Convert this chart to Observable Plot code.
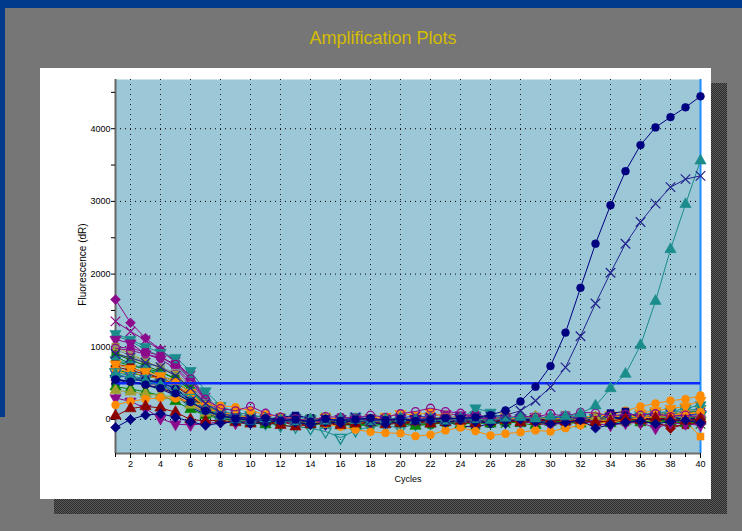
<!DOCTYPE html>
<html><head><meta charset="utf-8">
<script src="https://cdn.jsdelivr.net/npm/d3@7"></script>
<script src="https://cdn.jsdelivr.net/npm/@observablehq/plot@0.6"></script>
<style>
html,body{margin:0;padding:0;}
body{width:742px;height:531px;position:relative;overflow:hidden;background:#767676;font-family:"Liberation Sans",Arial,sans-serif;}
.abs{position:absolute;}
#topbar{left:0;top:0;width:742px;height:8px;background:#003a8c;}
#leftbar{left:0;top:0;width:5px;height:417px;background:#003a8c;}
.shadow{background:repeating-conic-gradient(#2c2c2c 0 25%,#5a5a5a 0 50%) 0 0/2px 2px;}
#shadowB{left:54px;top:499px;width:673px;height:15px;}
#shadowR{left:711px;top:83px;width:16px;height:431px;}
#panel{left:40px;top:68px;width:671px;height:431px;background:#fff;}
#title{left:283px;top:27px;width:200px;text-align:center;font-size:18px;line-height:22px;color:#d4bd00;white-space:nowrap;}
#chart{left:0;top:0;}
</style></head>
<body>
<div id="topbar" class="abs"></div>
<div id="leftbar" class="abs"></div>
<div id="shadowB" class="abs shadow"></div>
<div id="shadowR" class="abs shadow"></div>
<div id="panel" class="abs"></div>
<div id="title" class="abs">Amplification Plots</div>
<div id="chart" class="abs"></div>
<script>
// ---- categories / ticks ----
const cycles = [1,2,3,4,5,6,7,8,9,10,11,12,13,14,15,16,17,18,19,20,21,22,23,24,25,26,27,28,29,30,31,32,33,34,35,36,37,38,39,40];
const xTickLabels = [2,4,6,8,10,12,14,16,18,20,22,24,26,28,30,32,34,36,38,40];
const xGridCycles = [2,4,6,8,10,12,14,16,18,20,22,24,26,28,30,32,34,36,38];
const yTickLabels = [0,1000,2000,3000,4000];
const yMinorTicks = [500,1500,2500,3500,4500];
const yDomain = [-468, 4677];
const threshold = [500];

// ---- background wells (dR per cycle) ----
const p1 = [1650,1330,1120,960,800,560,260,120,60,20, -10,30,0,-40,-20,-60,-30,10,-20,-50, -30,0,-40,-20,10,-30,-10,20,0,-30, 10,40,0,-20,30,60,20,10,50,30];
const p2 = [1350,1210,1090,950,790,600,300,140,40,10, -20,0,-30,-50,-10,-40,-70,-30,-10,-60, -40,-20,10,-30,-50,-20,0,-40,-10,20, -20,0,30,-10,10,40,0,-30,20,-10];
const t1 = [1180,1100,1000,920,850,670,390,190,100,60, 30,10,-20,0,-40,-30,-10,20,-10,-30, 0,30,-20,-10,60,-40,0,-20,10,-10, 20,0,-30,50,20,60,90,100,120,150];
const p3 = [1100,1050,900,830,700,480,220,90,30,40, 0,-20,10,-30,-60,-20,10,-40,-10,-30, 20,40,80,60,30,-10,-20,20,40,0, 30,-20,10,30,-10,20,50,30,60,80];
const p6 = [1000,980,930,880,720,520,250,100,40,10, -20,10,-30,20,-10,30,0,-40,10,-20, 40,20,-10,30,70,20,-20,10,40,20, 60,30,0,20,50,80,60,90,70,50];
const t4 = [1150,1080,960,870,740,560,300,130,60,20, 0,-30,10,-20,-50,-10,20,-30,0,-10, 30,-20,10,-40,0,20,-10,30,0,-20, 20,50,10,40,70,40,90,60,80,110];
const o1 = [1000,900,810,700,620,430,200,80,20,-10, -30,10,-20,-60,-40,-80,-50,-20,-40,-70, -10,-30,0,-60,-20,-50,-30,-10,-40,-20, 0,-30,10,-20,20,0,40,20,10,-20];
const g1 = [960,880,790,720,640,470,230,110,50,20, -10,-20,-50,-30,-70,-40,-20,10,-30,-20, 20,50,70,20,-10,10,-20,0,30,-10, 0,20,-20,10,40,20,70,90,110,130];
const gr1 = [870,760,690,600,520,380,150,40,-10,-30, -40,-60,-20,-80,-50,-30,-60,-100,-40,-20, -50,-80,-30,-60,-40,-10,-50,-30,0,-20, -40,-10,-30,20,-10,30,0,-20,10,40];
const gr2 = [800,740,700,650,560,420,190,60,0,-20, -50,-30,-70,-40,-20,-60,-90,-50,-20,-40, -70,-30,-60,-10,-40,-60,-20,-50,-30,-60, -20,-40,-10,-30,10,-20,20,-10,30,0];
const gr5 = [680,640,600,560,470,330,150,50,0,-30, -10,-50,-20,0,-40,-70,-30,-10,-50,-20, -60,-30,-10,-40,-70,-20,-50,-10,-40,-20, -60,-30,-10,-40,0,-20,-50,-10,-30,-60];
const r1 = [760,720,640,570,480,330,160,50,-10,-40, -60,-30,-80,-60,-40,-70,-30,-50,-20,-60, -40,-10,-30,-50,-20,0,-30,-40,-10,-30, -50,-20,10,-10,-40,-20,-60,-90,-80,-40];
const or1 = [700,650,600,560,470,340,180,70,30,0, -20,-10,-40,-20,-50,-30,0,-20,-40,-10, -30,20,-20,10,-10,-30,0,-20,10,-10, 30,0,-20,20,50,30,60,80,70,100];
const or3 = [760,700,660,600,520,370,170,60,10,-20, 10,-30,0,-20,30,0,-40,20,40,80, 60,100,30,0,-30,10,40,-10,20,-20, 10,-30,40,60,30,90,120,150,180,260];
const n1 = [480,560,540,520,420,260,120,40,10,0, -30,-10,-40,-20,-50,-30,-10,-40,-20,10, -30,-10,-40,-20,-50,-10,-30,0,20,-20, 10,-10,30,0,20,-10,10,-20,0,20];
const n2 = [520,550,530,500,330,170,70,40,30,20, -10,30,55,18,-10,-30,0,-20,-40,-10, -30,10,-20,-95,-100,-60,-40,-20,-30,-10, -40,0,-20,87,110,20,-10,30,0,-20];
const n4 = [560,520,470,420,330,200,90,20,-20,-10, -40,-20,0,-30,-60,-40,-10,-30,0,-20, 10,-30,-10,20,-20,0,-40,-10,10,-30, 0,20,-10,40,10,-20,30,0,20,-10];
const oc1 = [200,250,280,300,290,240,200,190,170,120, 70,40,10,-20,-60,-100,-140,-170,-185,-190, -230,-210,-150,-110,-160,-220,-195,-175,-150,-165, -120,-80,-60,-30,-10,20,40,60,80,100];
const oc2 = [680,600,520,450,360,240,150,100,60,30, 0,-20,-40,-10,20,-10,-30,0,20,-10, 30,10,-20,10,-10,20,0,-30,-10,20, 0,30,50,60,120,180,220,260,280,330];
const r2 = [50,150,180,160,100,0,-20,-10,-40,-60, -30,-80,-100,-70,-50,-80,-60,-40,-70,-50, -30,-60,-40,-20,-50,-30,-10,-40,-20,0, -30,-10,-40,-20,10,-10,20,0,-20,10];
const n3 = [-110,0,60,80,30,-30,-80,-50,-30,-60, -40,-10,-40,-70,-30,-50,-20,-40,-60,-30, 0,-20,-40,-10,-30,-50,-20,0,-30,-60, -40,-10,-120,-70,-40,-20,-60,-30,-10,-50];
const p4 = [294,250,150,14,-64,-75,-60,-30,-50,-20, 10,-30,-60,-40,-20,10,-10,-40,-30,20, -10,30,0,-30,-60,-20,10,-30,-50,-80, -40,-20,-60,-80,-50,-40,-120,-50,-60,-80];
const t2 = [650,600,560,500,420,300,150,60,20,-20, -50,-80,-100,-120,-165,-250,-150,-100,-80,-120, -60,-40,-20,-50,-30,10,-20,-10,-40,-20, 10,-10,20,-20,0,30,10,40,20,60];
const gr3 = [450,420,380,330,250,140,60,10,-20,-40, -70,-40,-20,-60,-30,-50,-80,-40,-20,-50, -90,-60,-30,-70,-40,-60,-30,-50,-80,-40, -20,-60,-30,-50,-20,-40,-10,-30,-50,-20];
const b1 = [600,580,550,500,380,250,120,40,0,-10, 20,-20,10,-30,0,-20,30,10,-10,20, 50,30,0,20,-10,30,10,-20,0,20, 40,10,-10,30,0,20,50,70,40,90];
const o2 = [400,380,350,330,310,200,90,30,0,-20, 10,-10,-30,0,20,-20,0,-40,-10,10, -20,30,0,-30,-10,20,-10,10,40,0, 20,-10,30,10,-20,40,20,50,30,60];
const p5 = [980,950,900,850,760,560,280,150,120,180, 87,32,10,-20,40,30,20,60,30,80, 110,156,110,87,40,-10,20,50,30,80, 40,100,90,50,70,60,80,40,60,20];
const t3 = [820,760,700,620,500,380,220,100,40,60, 20,-10,30,10,-20,10,40,0,-20,20, -10,10,-30,0,156,97,-10,20,0,-20, 10,40,20,0,30,60,90,110,150,200];
const r3 = [720,680,620,560,460,310,140,50,0,-30, -10,-40,-20,-50,-30,-10,-40,-20,0,-30, -10,-50,-20,-40,-10,-30,0,-20,-40,-10, -30,-60,-20,-40,-10,-60,-30,-124,-60,-40];
const or2 = [550,520,480,430,330,220,110,40,10,-10, -30,0,-20,-40,-10,-30,-50,-20,0,-30, -10,20,-20,0,-30,-10,10,-20,0,20, -10,10,0,-20,10,-10,0,20,-30,-235];
const gr4 = [900,820,740,660,560,400,180,70,20,-10, -40,-20,10,-30,-60,-20,0,-40,-10,-30, 10,-20,-50,-10,20,-30,-10,10,-20,0, 20,-10,10,40,20,50,30,60,90,120];
const o3 = [920,840,780,720,600,420,200,80,30,10, -10,20,-20,0,30,-10,10,-30,0,20, -10,10,40,0,-20,10,30,0,-10,20, 50,20,0,40,60,30,80,100,70,110];

// ---- amplified wells ----
const ampA = [550,520,480,430,360,240,120,50,10,-10, 20,-20,0,-30,10,-20,0,20,-10,10, -20,0,20,10,30,60,124,248,451,735, 1195,1811,2418,2947,3416,3775,4018,4160,4294,4446];
const ampB = [900,850,780,720,600,430,220,90,30,0, -20,10,-10,-30,0,-10,20,-20,0,10, -10,20,0,30,20,40,60,120,258,446, 717,1145,1595,2018,2418,2717,2970,3196,3306,3352];
const ampC = [620,580,530,470,380,250,120,40,0,-20, 10,-10,-30,0,-20,10,-10,-30,0,20, -10,0,-20,10,0,-10,20,30,10,40, 40,80,189,428,625,1021,1628,2340,2961,3559];

// ---- styling (kept separate from values) ----
const C = {purple:"#8c0a8c", teal:"#1a8c8c", navy:"#000080", red:"#8b0000", orange:"#ff8c00",
  green:"#008000", olive:"#a0a030", grey:"#8c8c8c", blue:"#3232c8", dkgreen:"#006400", indigo:"#23238e"};
const series = [
  {v:p1, color:C.purple, sym:"diamond"},
  {v:p2, color:C.purple, sym:"times"},
  {v:t1, color:C.teal, sym:"tridown"},
  {v:t4, color:C.teal, sym:"circle"},
  {v:p3, color:C.purple, sym:"tridown"},
  {v:p6, color:C.purple, sym:"square"},
  {v:o1, color:C.olive, sym:"square"},
  {v:g1, color:C.grey, sym:"square", open:true},
  {v:gr4, color:C.dkgreen, sym:"square"},
  {v:o3, color:C.olive, sym:"times"},
  {v:gr1, color:C.green, sym:"circle"},
  {v:gr2, color:C.green, sym:"diamond"},
  {v:gr5, color:C.green, sym:"times"},
  {v:t3, color:C.teal, sym:"tridown"},
  {v:r1, color:C.red, sym:"square"},
  {v:r3, color:C.red, sym:"diamond"},
  {v:or1, color:C.orange, sym:"diamond"},
  {v:or3, color:C.orange, sym:"tridown"},
  {v:oc2, color:C.orange, sym:"circle"},
  {v:t2, color:C.teal, sym:"tridown", open:true},
  {v:b1, color:C.blue, sym:"times"},
  {v:or2, color:C.orange, sym:"square"},
  {v:n1, color:C.navy, sym:"circle"},
  {v:n4, color:C.navy, sym:"tridown"},
  {v:n2, color:C.navy, sym:"square"},
  {v:gr3, color:C.green, sym:"triangle"},
  {v:o2, color:C.olive, sym:"triangle"},
  {v:p4, color:C.purple, sym:"tridown"},
  {v:oc1, color:C.orange, sym:"circle"},
  {v:p5, color:C.purple, sym:"circle", open:true},
  {v:r2, color:C.red, sym:"triangle"},
  {v:n3, color:C.navy, sym:"diamond"},
  {v:ampC, color:C.teal, sym:"triangle"},
  {v:ampB, color:C.indigo, sym:"times"},
  {v:ampA, color:C.navy, sym:"circle"}
];

function rowsOf(arr){ return cycles.map((c,i)=>({cycle:c, value:arr[i]})); }

const bgMarks = [], ampMarks = [];
series.forEach((s, k) => {
  const target = k >= series.length - 3 ? ampMarks : bgMarks;
  const rows = rowsOf(s.v);
  target.push(Plot.line(rows, {x:"cycle", y:"value", stroke:s.color, strokeWidth:1}));
  let sym = s.sym, rotate = 0, r = 3.9;
  if (sym === "tridown") { sym = "triangle"; rotate = 180; r = 4.2; }
  if (sym === "diamond") { sym = "square"; rotate = 45; r = 3.9; }
  if (sym === "triangle") r = 4.2;
  if (sym === "times") {
    target.push(Plot.dot(rows, {x:"cycle", y:"value", symbol:"times", r:4.4, stroke:s.color, strokeWidth:1.2, fill:"none"}));
  } else if (s.open) {
    target.push(Plot.dot(rows, {x:"cycle", y:"value", symbol:sym, rotate, r, stroke:s.color, strokeWidth:1.3, fill:"none"}));
  } else {
    target.push(Plot.dot(rows, {x:"cycle", y:"value", symbol:sym, rotate, r, fill:s.color, stroke:s.color, strokeWidth:0.6}));
  }
});

const chart = Plot.plot({
  width: 742, height: 531,
  marginLeft: 115, marginRight: 42, marginTop: 79, marginBottom: 78,
  x: {domain: [cycles[0], cycles[cycles.length-1]]},
  y: {domain: yDomain},
  style: {background:"transparent", fontFamily:"'Liberation Sans', Arial, sans-serif", fontSize:"9px", color:"#000", overflow:"visible"},
  marks: [
    Plot.frame({fill:"#9bc7d6", stroke:"none"}),
    Plot.gridY(yTickLabels, {stroke:"#000", strokeOpacity:1, strokeDasharray:"1,4", strokeWidth:1}),
    Plot.gridX(xGridCycles, {stroke:"#000", strokeOpacity:0.85, strokeDasharray:"1,4", strokeWidth:1}),
    Plot.ruleX([cycles[0]], {stroke:"#666", strokeWidth:2}),
    Plot.ruleY([yDomain[0]], {stroke:"#707070", strokeWidth:2}),
    Plot.ruleX([cycles[cycles.length-1]], {stroke:"#1e8cff", strokeWidth:2}),
    Plot.axisY(yMinorTicks, {tickSize:4, tickFormat:()=>"", label:null, stroke:"#000"}),
    Plot.axisY(yTickLabels, {tickSize:4, tickPadding:1, tickFormat:d=>String(d), label:null, stroke:"#000"}),
    Plot.axisX(cycles, {tickSize:4, tickFormat:()=>"", label:null, stroke:"#000"}),
    Plot.axisX(xTickLabels, {tickSize:5, tickPadding:2, tickFormat:d=>String(d), label:null, stroke:"#000"}),
    Plot.text(["Fluorescence (dR)"], {frameAnchor:"left", textAnchor:"middle", dx:-33, dy:-2, rotate:-90, fontSize:10, fill:"#000"}),
    Plot.text(["Cycles"], {frameAnchor:"bottom", dy:28, fontSize:9, fill:"#000"}),
    ...bgMarks,
    Plot.ruleY(threshold, {stroke:"#0a28ff", strokeWidth:2.5}),
    ...ampMarks
  ]
});
document.getElementById("chart").appendChild(chart);
</script>
</body></html>
